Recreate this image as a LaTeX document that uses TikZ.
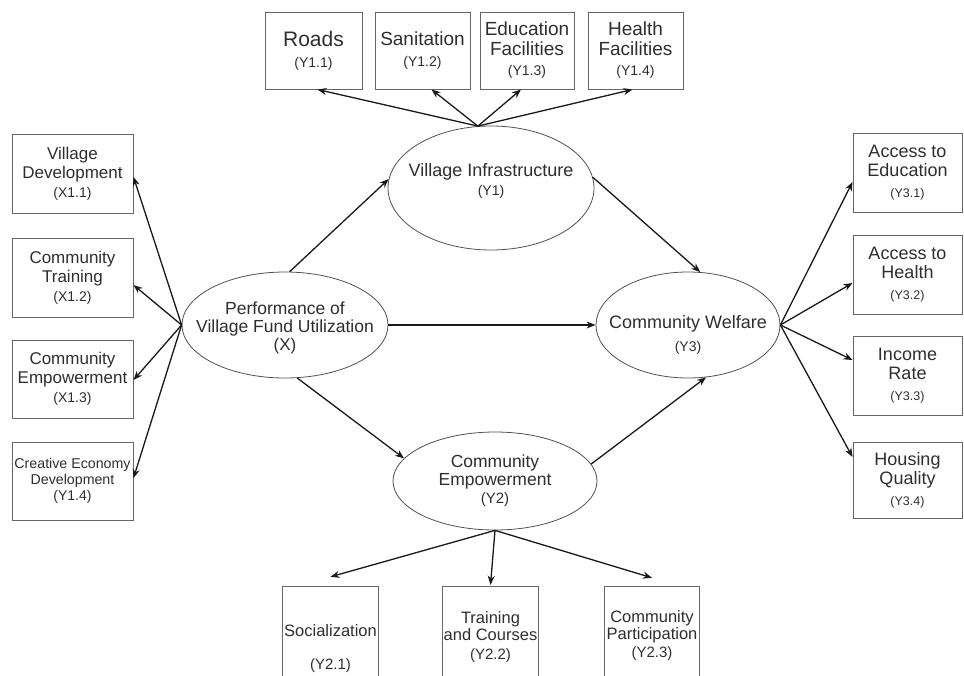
\documentclass[tikz,border=0pt]{standalone}
\usepackage{fontspec}
\setmainfont{Liberation Sans}
\usetikzlibrary{shapes.geometric,arrows.meta}
\definecolor{txt}{HTML}{2E2E2E}
\definecolor{edge}{HTML}{666666}
\definecolor{elledge}{HTML}{505050}
\begin{document}
\begin{tikzpicture}[x=1pt,y=-1pt,
  box/.style={draw=edge, line width=1pt, rectangle, inner sep=0pt, align=center, text=txt},
  topbox/.style={box, minimum width=95pt, minimum height=77pt, font=\fontsize{19}{20}\selectfont},
  leftbox/.style={box, minimum width=121pt, minimum height=78pt, font=\fontsize{17}{19}\selectfont},
  rightbox/.style={box, minimum width=109pt, minimum height=78pt, font=\fontsize{18}{19}\selectfont},
  botbox/.style={rectangle, inner sep=0pt, minimum width=95pt, minimum height=89pt},
  bottxt/.style={inner sep=0pt, align=center, text=txt, font=\fontsize{16.5}{17}\selectfont},
  ell/.style={draw=elledge, line width=0.8pt, ellipse, inner sep=0pt},
  elltxt/.style={inner sep=0pt, align=center, text=txt, font=\fontsize{18}{18.5}\selectfont},
  arr/.style={-{Stealth[length=9pt,width=7pt]}, line width=1.3pt, black!90},
  edgeline/.style={draw=edge, line width=1pt}
]
\useasboundingbox (0,0) rectangle (964,675);

% ---------- ellipses ----------
\node[ell, minimum width=206pt, minimum height=106pt] (x) at (285,325) {};
\node[elltxt, font=\fontsize{17.5}{18}\selectfont] (xt) at (285,328)
  {Performance of\\Village Fund Utilization\\{\fontsize{17}{18}\selectfont (X)}};
\node[ell, minimum width=206pt, minimum height=124pt] (y1) at (491,188) {};
\node[elltxt] (y1t) at (491,181)
  {Village Infrastructure\\{\fontsize{14}{16}\selectfont (Y1)}};
\node[ell, minimum width=184pt, minimum height=106pt] (y3) at (688,325) {};
\node[elltxt] (y3t) at (688,335)
  {Community Welfare\\[4pt]{\fontsize{14}{16}\selectfont (Y3)}};
\node[ell, minimum width=204pt, minimum height=98pt] (y2) at (495,481) {};
\node[elltxt, font=\fontsize{17.5}{18}\selectfont] (y2t) at (495,481)
  {Community\\Empowerment\\{\fontsize{15}{16}\selectfont (Y2)}};

% ---------- top boxes ----------
\node[topbox, minimum width=97pt] (r1) at (313.5,50.5)
  {{\fontsize{21}{22}\selectfont Roads}\\[1pt]{\fontsize{14}{16}\selectfont (Y1.1)}};
\node[topbox] (r2) at (422.5,50.5)
  {Sanitation\\[1pt]{\fontsize{14}{16}\selectfont (Y1.2)}};
\node[topbox, minimum width=94pt] (r3) at (527,50.5)
  {Education\\Facilities\\{\fontsize{14}{16}\selectfont (Y1.3)}};
\node[topbox] (r4) at (635.5,50.5)
  {Health\\Facilities\\{\fontsize{14}{16}\selectfont (Y1.4)}};

% ---------- left boxes ----------
\node[leftbox, minimum height=79pt] (b1) at (72.5,173.5)
  {Village\\Development\\{\fontsize{14}{16}\selectfont (X1.1)}};
\node[leftbox, minimum height=79pt] (b2) at (72.5,277.5)
  {Community\\Training\\{\fontsize{14}{16}\selectfont (X1.2)}};
\node[leftbox] (b3) at (72.5,379)
  {Community\\Empowerment\\{\fontsize{14}{16}\selectfont (X1.3)}};
\node[leftbox, font=\fontsize{14.2}{15.5}\selectfont] (b4) at (72.5,481)
  {Creative Economy\\Development\\[1pt]{\fontsize{14}{16}\selectfont (Y1.4)}};

% ---------- right boxes ----------
\node[rightbox, minimum height=79pt] (c1) at (907.5,172.5)
  {Access to\\Education\\[2pt]{\fontsize{12.5}{14}\selectfont (Y3.1)}};
\node[rightbox, minimum height=79pt] (c2) at (907.5,274.5)
  {Access to\\Health\\[2pt]{\fontsize{12.5}{14}\selectfont (Y3.2)}};
\node[rightbox, minimum height=79pt] (c3) at (907.5,375.5)
  {Income\\Rate\\[2pt]{\fontsize{12.5}{14}\selectfont (Y3.3)}};
\node[rightbox, minimum height=76pt] (c4) at (907.5,480)
  {Housing\\Quality\\[2pt]{\fontsize{12.5}{14}\selectfont (Y3.4)}};

% ---------- bottom boxes (cut by the page edge) ----------
\node[botbox] (s1) at (330.5,631.5) {};
\node[botbox] (s2) at (490.5,631.5) {};
\node[botbox] (s3) at (652,631.5) {};
\draw[edgeline] (s1.south west) -- (s1.north west) -- (s1.north east) -- (s1.south east);
\draw[edgeline] (s2.south west) -- (s2.north west) -- (s2.north east) -- (s2.south east);
\draw[edgeline] (s3.south west) -- (s3.north west) -- (s3.north east) -- (s3.south east);
\node[bottxt] (s1t) at (330.5,649) {Socialization\\[16pt]{\fontsize{15}{16}\selectfont (Y2.1)}};
\node[bottxt] (s2t) at (490.5,637) {Training\\and Courses\\[2pt]{\fontsize{15}{16}\selectfont (Y2.2)}};
\node[bottxt] (s3t) at (652,636) {Community\\Participation\\[1pt]{\fontsize{15}{16}\selectfont (Y2.3)}};

% ---------- structural arrows ----------
\draw[arr] (x.85) -- (y1.175);
\draw[arr] (x.east) -- (y3.west);
\draw[arr] (x.-77) -- (y2.166);
\draw[arr] (y1.6) -- (y3.77);
\draw[arr] (y2.10) -- (y3.-71);

% ---------- indicator arrows ----------
\draw[arr] (y1.102) -- ([xshift=4pt]r1.south);
\draw[arr] (y1.102) -- ([xshift=9pt]r2.south);
\draw[arr] (y1.102) -- ([xshift=-6pt]r3.south);
\draw[arr] (y1.102) -- ([xshift=-3pt]r4.south);

\draw[arr] (x.west) -- ([yshift=-3.5pt]b1.east);
\draw[arr] (x.west) -- ([yshift=-7.5pt]b2.east);
\draw[arr] (x.west) -- ([yshift=-1pt]b3.east);
\draw[arr] (x.west) -- ([yshift=3pt]b4.east);

\draw[arr] (y3.east) -- ([yshift=-9.5pt]c1.west);
\draw[arr] (y3.east) -- ([yshift=-8.5pt]c2.west);
\draw[arr] (y3.east) -- ([yshift=15.5pt]c3.west);
\draw[arr] (y3.east) -- ([yshift=23pt]c4.west);

\draw[arr] (y2.south) -- ([yshift=10pt]s1.north);
\draw[arr] (y2.south) -- ([yshift=2pt]s2.north);
\draw[arr] (y2.south) -- ([yshift=9pt]s3.north);
\end{tikzpicture}
\end{document}
